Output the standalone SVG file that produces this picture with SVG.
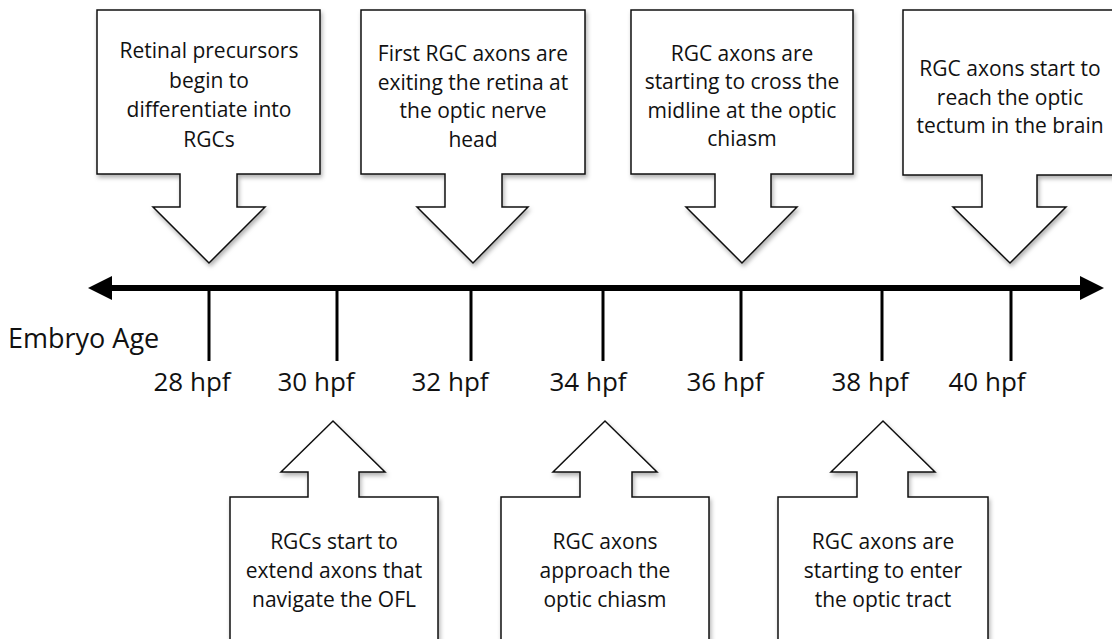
<svg xmlns="http://www.w3.org/2000/svg" width="1112" height="639" viewBox="0 0 1112 639">
<style>
.call{fill:#fff;stroke:#111;stroke-width:1.5;stroke-linejoin:miter;filter:url(#sh)}
.t{font-family:"Open Sans","Liberation Sans",sans-serif;font-size:21px;fill:#111;text-anchor:middle}
.lab{font-family:"Open Sans","Liberation Sans",sans-serif;font-size:26px;fill:#111;text-anchor:middle}
.tick{stroke:#000;stroke-width:3}
</style>
<defs>
<filter id="sh" x="-10%" y="-10%" width="130%" height="130%">
<feDropShadow dx="1.5" dy="3" stdDeviation="2" flood-color="#000" flood-opacity="0.3"/>
</filter>
</defs>
<rect width="1112" height="639" fill="#fff"/>
<g id="timeline">
<line x1="106" y1="288" x2="1086" y2="288" stroke="#000" stroke-width="6"/>
<polygon points="88,288 112,276 112,300" fill="#000"/>
<polygon points="1104,288 1080,276 1080,300" fill="#000"/>
<line class="tick" x1="209" y1="288" x2="209" y2="361"/>
<line class="tick" x1="337" y1="288" x2="337" y2="361"/>
<line class="tick" x1="471" y1="288" x2="471" y2="361"/>
<line class="tick" x1="603" y1="288" x2="603" y2="361"/>
<line class="tick" x1="741" y1="288" x2="741" y2="361"/>
<line class="tick" x1="882" y1="288" x2="882" y2="361"/>
<line class="tick" x1="1011" y1="288" x2="1011" y2="361"/>
<text class="lab" x="8" y="348" style="text-anchor:start;font-size:27px">Embryo Age</text>
<text class="lab" x="192" y="391">28 hpf</text>
<text class="lab" x="316" y="391">30 hpf</text>
<text class="lab" x="450" y="391">32 hpf</text>
<text class="lab" x="588" y="391">34 hpf</text>
<text class="lab" x="725" y="391">36 hpf</text>
<text class="lab" x="870" y="391">38 hpf</text>
<text class="lab" x="987" y="391">40 hpf</text>
</g>
<g id="connectors"></g>
<g id="top28">
<path class="call" d="M97,10 H320 V174 H237 V207 H265 L209,263 L153,207 H180 V174 H97 Z"/>
<text class="t" x="209" y="58">Retinal precursors</text>
<text class="t" x="209" y="88">begin to</text>
<text class="t" x="209" y="117">differentiate into</text>
<text class="t" x="209" y="147">RGCs</text>
</g>
<g id="top32">
<path class="call" d="M361,10 H585 V174 H502 V207 H528 L473,263 L417,207 H445 V174 H361 Z"/>
<text class="t" x="473" y="61">First RGC axons are</text>
<text class="t" x="473" y="90">exiting the retina at</text>
<text class="t" x="473" y="118">the optic nerve</text>
<text class="t" x="473" y="147">head</text>
</g>
<g id="top36">
<path class="call" d="M631,10 H853 V174 H771 V207 H797 L742,263 L686,207 H715 V174 H631 Z"/>
<text class="t" x="742" y="61">RGC axons are</text>
<text class="t" x="742" y="89">starting to cross the</text>
<text class="t" x="742" y="118">midline at the optic</text>
<text class="t" x="742" y="146">chiasm</text>
</g>
<g id="top40">
<path class="call" d="M903,10 H1120 V175 H1037 V207 H1066 L1010,263 L953,207 H982 V175 H903 Z"/>
<text class="t" x="1010" y="76">RGC axons start to</text>
<text class="t" x="1010" y="105">reach the optic</text>
<text class="t" x="1010" y="133">tectum in the brain</text>
</g>
<g id="bot30">
<path class="call" d="M230,650 V497 H308 V472 H281 L333,421 L385,472 H359 V497 H438 V650 Z"/>
<text class="t" x="334" y="549">RGCs start to</text>
<text class="t" x="334" y="578">extend axons that</text>
<text class="t" x="334" y="607">navigate the OFL</text>
</g>
<g id="bot34">
<path class="call" d="M501,650 V497 H580 V472 H553 L605,421 L657,472 H632 V497 H709 V650 Z"/>
<text class="t" x="605" y="549">RGC axons</text>
<text class="t" x="605" y="578">approach the</text>
<text class="t" x="605" y="607">optic chiasm</text>
</g>
<g id="bot38">
<path class="call" d="M778,650 V497 H857 V472 H831 L883,421 L935,472 H908 V497 H988 V650 Z"/>
<text class="t" x="883" y="549">RGC axons are</text>
<text class="t" x="883" y="578">starting to enter</text>
<text class="t" x="883" y="607">the optic tract</text>
</g>
</svg>
